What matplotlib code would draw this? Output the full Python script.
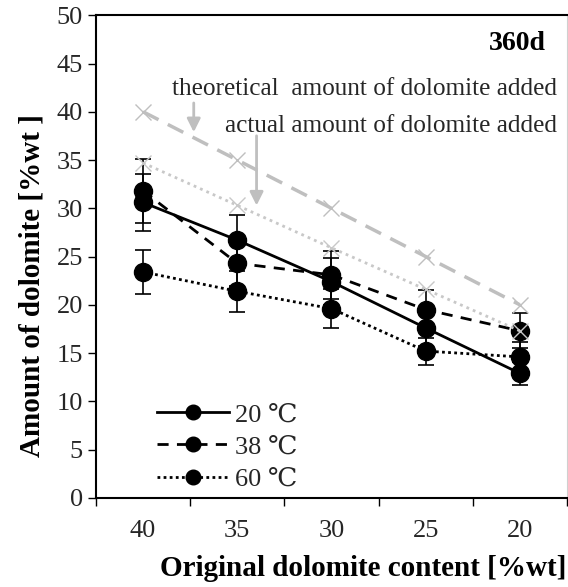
import matplotlib
matplotlib.use("Agg")
import matplotlib.pyplot as plt
from matplotlib.lines import Line2D
import numpy as np

plt.rcParams['font.family'] = ['Liberation Serif', 'DejaVu Serif']

# dane
content = ['40', '35', '30', '25', '20']
t20 = [30.6, 26.7, 22.4, 17.6, 12.9]
t20_err = [3.0, 2.6, 2.4, 1.9, 1.2]
t38 = [31.8, 24.3, 23.1, 19.5, 17.3]
t38_err = [3.3, 2.4, 2.5, 2.0, 1.8]
t60 = [23.4, 21.4, 19.6, 15.2, 14.6]
t60_err = [2.3, 2.1, 2.0, 1.4, 1.5]
theoretical = [40, 35, 30, 25, 20]
actual = [34.7, 30.3, 25.9, 21.6, 17.3]

x = np.arange(len(content))
txt = '#262626'

fig = plt.figure(figsize=(5.68, 5.87), dpi=100)
ax = fig.add_axes([0.169, 0.152, 0.829, 0.822])

style = dict(color='black', marker='o', markersize=13, linewidth=2,
             elinewidth=1.2, capsize=6, capthick=1.2, ecolor='black')
ls20, ls38, ls60 = '-', (0, (4, 3)), (0, (1, 1.2))
ax.errorbar(x, t20, yerr=t20_err, linestyle=ls20, **style)
ax.errorbar(x, t38, yerr=t38_err, linestyle=ls38, **style)
ax.errorbar(x, t60, yerr=t60_err, linestyle=ls60, **style)

ax.plot(x, theoretical, color='#bfbfbf', linestyle=(0, (5, 3)), linewidth=2.5,
        marker='x', markersize=11, markeredgewidth=1, zorder=5)
ax.plot(x, actual, color='#c8c8c8', linestyle=(0, (1, 1.5)), linewidth=2,
        marker='x', markersize=11, markeredgewidth=1, zorder=5)

ax.set_xlim(-0.5, 4.5)
ax.set_ylim(0, 50)
ax.set_yticks(range(0, 51, 5))
ax.set_xticks(x)
ax.set_xticklabels(content)
ax.set_xticks(np.arange(-0.5, 4.6, 1), minor=True)
ax.tick_params(axis='x', which='major', length=0, labelsize=19, pad=16)
ax.tick_params(axis='x', which='minor', length=6, width=1)
ax.tick_params(axis='y', length=6, width=1, labelsize=19)
for lbl in ax.get_yticklabels() + ax.get_xticklabels():
    lbl.set_color(txt)

ax.spines['left'].set_linewidth(1.5)
ax.spines['bottom'].set_linewidth(1.5)
ax.spines['top'].set_linewidth(1.5)
ax.spines['right'].set_linewidth(0.8)
ax.spines['right'].set_color('#d0d0d0')

ax.set_xlabel('Original dolomite content [%wt]', fontsize=21, fontweight='bold', va='center')
ax.xaxis.set_label_coords(0.567, -0.146)
ax.set_ylabel('Amount of dolomite [%wt ]', fontsize=21, fontweight='bold', va='center')
ax.yaxis.set_label_coords(-0.135, 0.44)

ax.text(4.28, 47.1, '360d', ha='right', va='center', fontsize=20, fontweight='bold')
ax.text(4.4, 42.4, 'theoretical  amount of dolomite added', ha='right', va='center',
        fontsize=18.2, color=txt)
ax.text(4.4, 38.5, 'actual amount of dolomite added', ha='right', va='center',
        fontsize=18.2, color=txt)
ax.annotate('', xy=(0.538, 37.6), xytext=(0.538, 41.2),
            arrowprops=dict(arrowstyle='-|>', color='#bfbfbf', lw=2, mutation_scale=20))
ax.annotate('', xy=(1.205, 30.0), xytext=(1.205, 37.8),
            arrowprops=dict(arrowstyle='-|>', color='#bfbfbf', lw=2, mutation_scale=20))

handles = [Line2D([], [], color='black', marker='o', markersize=10.5, linewidth=2, linestyle=ls)
           for ls in (ls20, ls38, ls60)]
ax.legend(handles, ['20 \u2103', '38 \u2103', '60 \u2103'], loc='lower left',
          bbox_to_anchor=(0.08, -0.035), frameon=False, fontsize=19, labelcolor=txt,
          handlelength=2.7, labelspacing=0.33, handletextpad=0.25)

fig.savefig('out.png', dpi=100)
